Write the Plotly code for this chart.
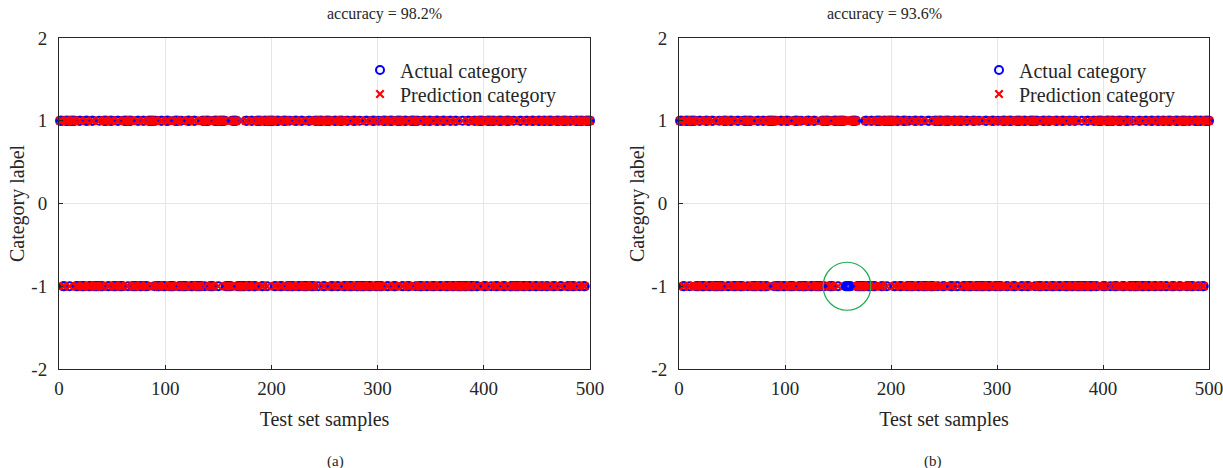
import plotly.graph_objects as go

# ---- data ----
# run lengths of actual labels (alternating +1 / -1, starting with +1), 500 samples total
label_runs = [
    3, 2, 4, 1, 5, 3, 2, 4, 3, 3,
    2, 5, 1, 3, 4, 2, 3, 4, 2, 4,
    4, 1, 3, 5, 2, 3, 2, 3, 6, 1,
    1, 4, 2, 3, 3, 5, 4, 2, 1, 5,
    3, 3, 2, 6, 2, 1, 4, 4, 4, 1,
    6, 6, 5, 8, 2, 3,
    2, 3, 5, 2, 3, 1, 6, 2, 3, 3,
    4, 2, 1, 4, 3, 3, 2, 5, 2, 4,
    3, 1, 4, 2, 5, 3, 3, 2, 4, 3,
    2, 4, 3, 3, 1, 5, 2, 4, 3, 3,
    1, 3, 4, 2, 4, 3, 5, 2, 3, 3,
    5, 1, 2, 4, 3, 2, 3, 4, 3, 3,
    3, 4, 2, 3, 2, 5, 1, 4, 2, 4,
    2, 2, 5, 3, 4, 1, 3, 3, 4, 3,
    4, 3, 1, 5, 2, 4, 2, 3, 3, 3,
    3, 2, 3, 2, 4, 3, 4, 2, 5, 2,
    2, 3, 4, 1, 3, 2, 5,
]
# misclassified sample numbers
errors_a = [27, 88, 134, 171, 239, 268, 331, 390, 457]
errors_b = [9, 14, 24, 41, 63, 95, 118, 137, 157, 158, 159, 160, 161, 162, 189, 214,
            236, 247, 262, 281, 307, 334, 352, 371, 398, 415, 421, 433, 451, 468,
            476, 489]
titles = ["accuracy = 98.2%", "accuracy = 93.6%"]
panel_tags = ["(a)", "(b)"]
x_ticks = [0, 100, 200, 300, 400, 500]
y_ticks = [-2, -1, 0, 1, 2]
y_tick_labels = ["-2", "-1", "0", "1", "2"]

actual = []
sign = 1
for r in label_runs:
    actual += [sign] * r
    sign = -sign
samples = list(range(1, len(actual) + 1))
pred_a = [-v if i in errors_a else v for i, v in zip(samples, actual)]
pred_b = [-v if i in errors_b else v for i, v in zip(samples, actual)]

FONT = "Liberation Serif, Times New Roman, serif"
TXT = "#262626"
BLUE = "#0000FF"
RED = "#FF0000"

fig = go.Figure()

panels = [("x", "y", "legend", "legend2", pred_a), ("x2", "y2", "legend3", "legend4", pred_b)]
for xa, ya, lg1, lg2, pred in panels:
    fig.add_trace(go.Scatter(
        x=samples, y=actual, mode="markers", name="Actual category",
        xaxis=xa, yaxis=ya, legend=lg1, cliponaxis=False, showlegend=True,
        marker=dict(symbol="circle-open", size=8, color=BLUE, line=dict(width=2, color=BLUE)),
    ))
    fig.add_trace(go.Scatter(
        x=samples, y=pred, mode="markers", name="Prediction category",
        xaxis=xa, yaxis=ya, legend=lg2, cliponaxis=False, showlegend=True,
        marker=dict(symbol="x-thin-open", size=7.5, color=RED, line=dict(width=2.2, color=RED)),
    ))

ax_common = dict(
    showline=True, mirror=True, linecolor=TXT, linewidth=1,
    showgrid=True, gridcolor="#e6e6e6", gridwidth=1, zeroline=False,
    ticks="inside", ticklen=4, tickcolor=TXT, automargin=False,
    ticklabeloverflow="allow",
    tickfont=dict(family=FONT, size=19, color=TXT),
)
xdoms = [[59 / 1223, 590 / 1223], [679 / 1223, 1209 / 1223]]
ydom = [1 - 369 / 468, 1 - 38 / 468]
layout = dict(
    width=1223, height=468, showlegend=True,
    margin=dict(l=0, r=0, t=0, b=0, autoexpand=False),
    paper_bgcolor="white", plot_bgcolor="white",
    font=dict(family=FONT, color=TXT),
)
for k, (xname, yname) in enumerate([("xaxis", "yaxis"), ("xaxis2", "yaxis2")]):
    anchor_x = "y" if k == 0 else "y2"
    anchor_y = "x" if k == 0 else "x2"
    layout[xname] = dict(ax_common, domain=xdoms[k], anchor=anchor_x, range=[0, 500],
                         tickvals=x_ticks, ticklabelstandoff=2,
                         title=dict(text="Test set samples", font=dict(family=FONT, size=20, color=TXT),
                                    standoff=14))
    layout[yname] = dict(ax_common, domain=ydom, anchor=anchor_y, range=[-2, 2],
                         tickvals=y_ticks, ticktext=y_tick_labels, ticklabelstandoff=7,
                         title=dict(text="Category label", font=dict(family=FONT, size=20, color=TXT),
                                    standoff=1))

leg_common = dict(
    font=dict(family=FONT, size=20, color=TXT), bgcolor="rgba(0,0,0,0)",
    borderwidth=0, yanchor="middle", xanchor="left", tracegroupgap=0, visible=True,
)
layout["legend"] = dict(leg_common, x=360 / 1223, y=1 - 70 / 468)
layout["legend2"] = dict(leg_common, x=360 / 1223, y=1 - 94 / 468)
layout["legend3"] = dict(leg_common, x=979 / 1223, y=1 - 70 / 468)
layout["legend4"] = dict(leg_common, x=979 / 1223, y=1 - 94 / 468)
fig.update_layout(**layout)

for k in range(2):
    cx = (xdoms[k][0] + xdoms[k][1]) / 2
    fig.add_annotation(x=cx, y=1 - 14 / 468, xref="paper", yref="paper", text=titles[k],
                       showarrow=False, yanchor="middle", font=dict(family=FONT, size=16, color=TXT))
    fig.add_annotation(x=cx, y=1 - 461 / 468, xref="paper", yref="paper", text=panel_tags[k],
                       showarrow=False, yanchor="middle", font=dict(family=FONT, size=15, color=TXT))

# highlight circle around the misclassified cluster in panel (b)
fig.add_shape(type="circle", xref="x2", yref="y2", x0=136, x1=181, y0=-1.29, y1=-0.71,
              line=dict(color="#22AA55", width=1.2))

fig.write_html("out.html", config={"displayModeBar": False},
               post_script="document.body.style.margin='0px';")
